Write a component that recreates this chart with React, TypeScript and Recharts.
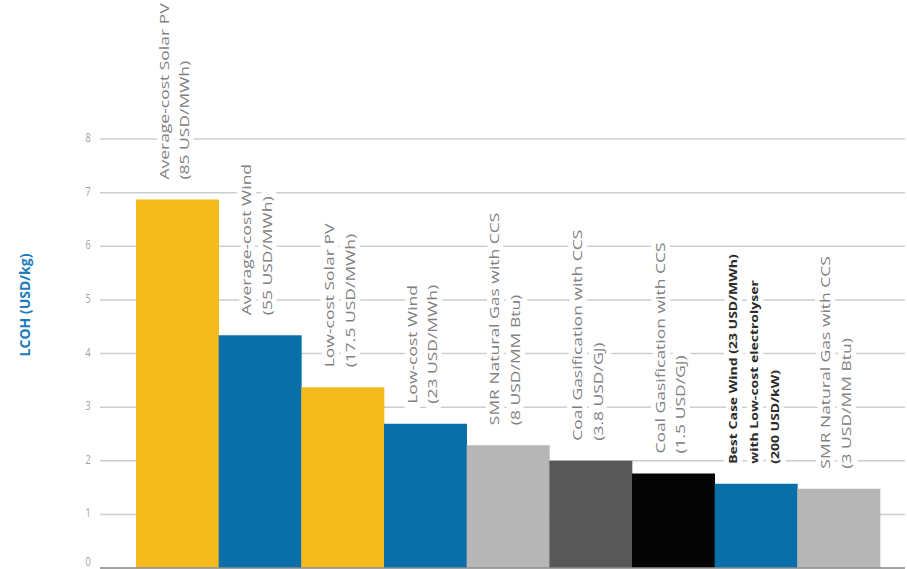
import { BarChart, Bar, Cell, XAxis, YAxis, CartesianGrid, ReferenceLine, LabelList } from "recharts";

// LCOH by production route, USD/kg
const routes = [
  "Average-cost Solar PV",
  "Average-cost Wind",
  "Low-cost Solar PV",
  "Low-cost Wind",
  "SMR Natural Gas with CCS",
  "Coal Gasification with CCS",
  "Coal Gasification with CCS",
  "Best Case Wind (23 USD/MWh)",
  "SMR Natural Gas with CCS",
];
const inputCosts = [
  ["(85 USD/MWh)"],
  ["(55 USD/MWh)"],
  ["(17.5 USD/MWh)"],
  ["(23 USD/MWh)"],
  ["(8 USD/MM Btu)"],
  ["(3.8 USD/GJ)"],
  ["(1.5 USD/GJ)"],
  ["with Low-cost electrolyser", "(200 USD/kW)"],
  ["(3 USD/MM Btu)"],
];
const lcoh = [6.87, 4.34, 3.37, 2.69, 2.29, 2.0, 1.76, 1.57, 1.48];
const yTicks = [0, 1, 2, 3, 4, 5, 6, 7, 8];
const highlighted = 7;

const barColors = ["#F3BC1C", "#0A6EA9", "#F3BC1C", "#0A6EA9", "#B6B6B6", "#585858", "#050505", "#0A6EA9", "#B6B6B6"];

const data = routes.map((name, i) => ({ name, lines: [name, ...inputCosts[i]], value: lcoh[i] }));

const FONT = "'Open Sans', sans-serif";

function BarLabel(props: any) {
  const { x, y, width, index } = props;
  const lines: string[] = data[index].lines;
  const bold = index === highlighted;
  const cx = x + width / 2 - 3;
  const bottom = y - 20;
  const gap = 21;
  const n = lines.length;
  const rows = lines.map((t, i) => ({ t, dy: (i - (n - 1) / 2) * gap + 4.5 }));
  const style = {
    fontFamily: FONT,
    fontSize: bold ? 10 : 12.5,
    fontWeight: bold ? 700 : 400,
  };
  return (
    <g transform={`translate(${cx},${bottom}) rotate(-90) scale(1.4,1)`}>
      {rows.map((r, i) => (
        <text key={"h" + i} x={0} y={r.dy} {...style} fill="#fff" stroke="#fff" strokeWidth={10} strokeLinejoin="round">
          {r.t}
        </text>
      ))}
      {rows.map((r, i) => (
        <text key={"t" + i} x={0} y={r.dy} {...style} fill={bold ? "#2b2b2b" : "#808080"}>
          {r.t}
        </text>
      ))}
    </g>
  );
}

function YTick(props: any) {
  const { y, payload } = props;
  // keep the bottom "0" inside the frame
  const baseline = Math.min(y + 3, 566);
  return (
    <text transform={`translate(88,${baseline}) scale(1,1.4)`} textAnchor="middle" fontFamily={FONT} fontSize={9} fill="#a0a0a0">
      {payload.value}
    </text>
  );
}

export default function App() {
  return (
    <div style={{ position: "absolute", left: 0, top: 0, background: "#fff" }}>
      <BarChart
        width={907}
        height={569}
        data={data}
        margin={{ top: 139, right: 2, bottom: 1, left: 40 }}
        barCategoryGap={0}
      >
        <CartesianGrid vertical={false} stroke="#cdcdcd" strokeWidth={1.5} />
        <XAxis dataKey="name" hide padding={{ left: 36, right: 25 }} />
        <YAxis
          width={60}
          domain={[0, 8]}
          ticks={yTicks}
          interval={0}
          axisLine={false}
          tickLine={false}
          tick={<YTick />}
          label={{
            value: "LCOH (USD/kg)",
            content: () => (
              <text
                transform="translate(30,305) rotate(-90)"
                textAnchor="middle"
                fontFamily={FONT}
                fontSize={14}
                fontWeight={700}
                fill="#1C7CBD"
              >
                LCOH (USD/kg)
              </text>
            ),
          }}
        />
        <ReferenceLine y={0} stroke="#8f8f8f" strokeWidth={1.5} />
        <Bar dataKey="value" isAnimationActive={false}>
          {data.map((d, i) => (
            <Cell key={d.name + i} fill={barColors[i]} />
          ))}
          <LabelList dataKey="value" content={<BarLabel />} />
        </Bar>
      </BarChart>
    </div>
  );
}
